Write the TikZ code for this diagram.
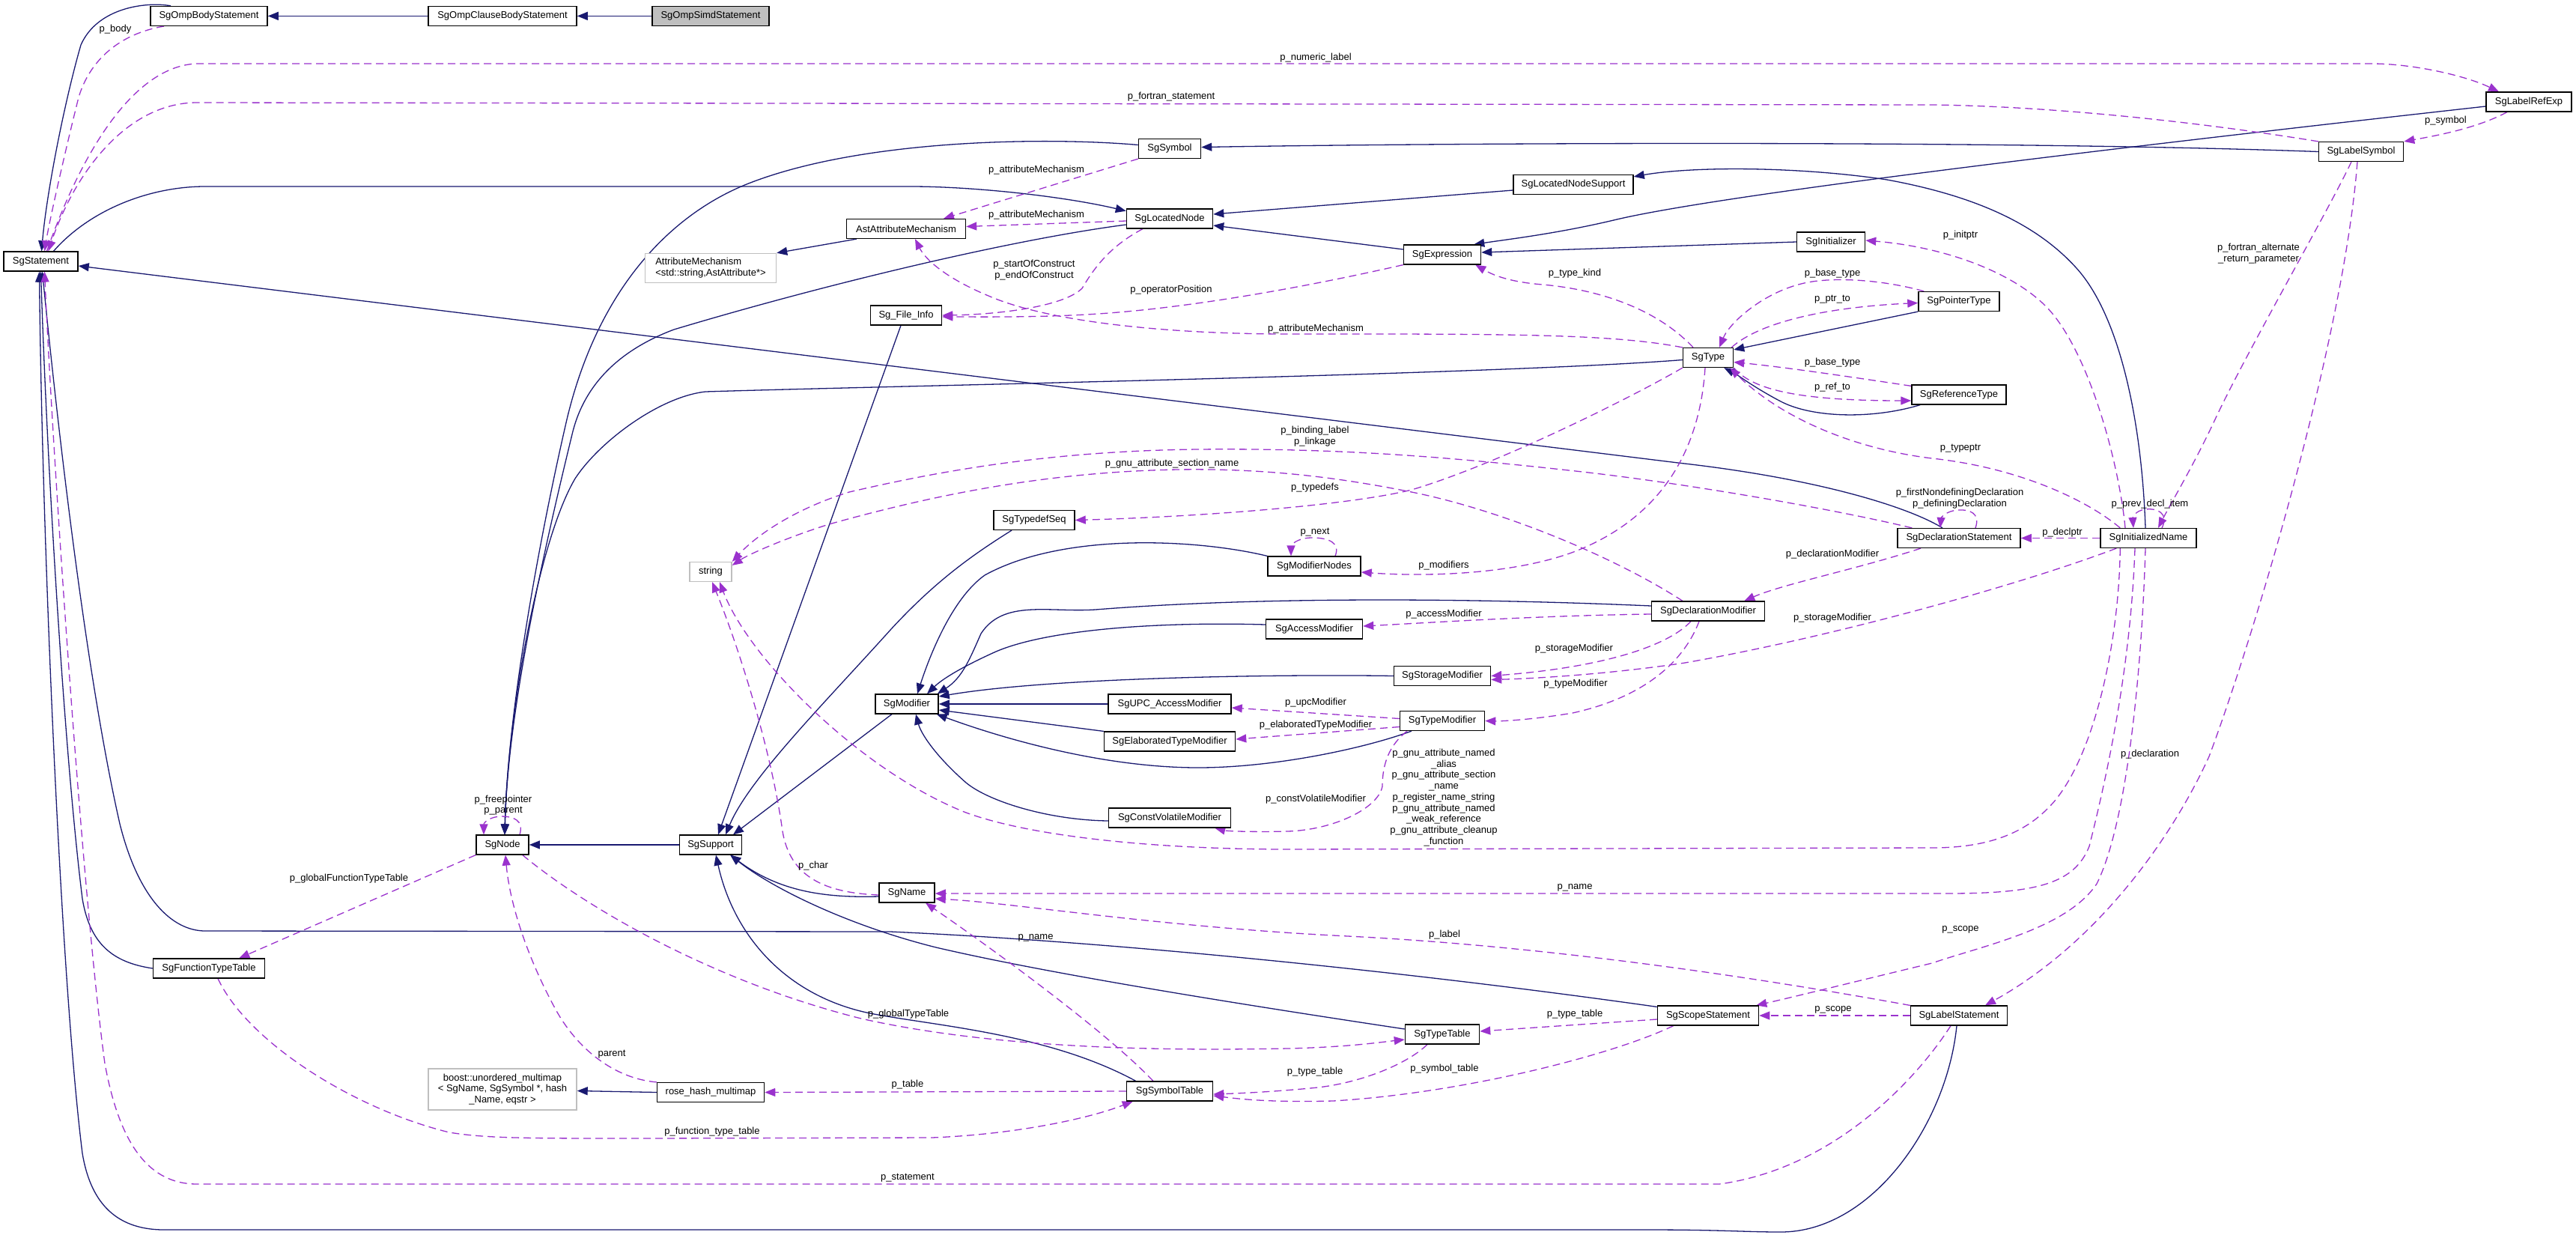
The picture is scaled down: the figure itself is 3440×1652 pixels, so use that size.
\documentclass[tikz,border=0pt]{standalone}
\usepackage{fontspec}
\setmainfont{Liberation Sans}
\usetikzlibrary{arrows.meta}
\pgfdeclarelayer{bg}
\pgfsetlayers{bg,main}
\definecolor{navyc}{HTML}{191970}
\definecolor{purp}{HTML}{9A32CD}
\definecolor{grayb}{HTML}{BFBFBF}
\tikzset{
  cbox/.style={draw=black, line width=1.5pt, fill=white, inner sep=0pt, minimum height=25.7pt, anchor=center},
  gcbox/.style={cbox, draw=grayb},
  inh/.style={draw=navyc, line width=1.3pt, -{Triangle[length=14pt,width=11pt]}},
  usage/.style={draw=purp, line width=1.3pt, dash pattern=on 10pt off 6pt, -{Triangle[length=14pt,width=11pt]}},
  lbl/.style={inner sep=0pt, align=center, text=black, anchor=center}
}
\begin{document}
\begin{tikzpicture}[x=1pt,y=-1pt,font=\fontsize{13pt}{14.75pt}\selectfont]
\useasboundingbox (0,0) rectangle (3440,1652);
% nodes
\node[cbox,minimum width=156pt] (ompbody) at (279,21.4) {SgOmpBodyStatement};
\node[cbox,minimum width=198pt] (ompclause) at (671,21.4) {SgOmpClauseBodyStatement};
\node[cbox,minimum width=156pt,fill=grayb] (ompsimd) at (949,21.4) {SgOmpSimdStatement};
\node[cbox,minimum width=99pt] (stmt) at (54.5,349) {SgStatement};
\node[cbox,minimum width=114pt] (labelref) at (3377,136) {SgLabelRefExp};
\node[cbox,minimum width=83pt] (symbol) at (1562,198.5) {SgSymbol};
\node[cbox,minimum width=113pt] (labelsym) at (3153,202.5) {SgLabelSymbol};
\node[cbox,minimum width=115pt] (locnode) at (1562,292) {SgLocatedNode};
\node[cbox,minimum width=159pt] (astattr) at (1210,305.5) {AstAttributeMechanism};
\node[gcbox,minimum width=175pt,minimum height=39pt,align=left] (attrmech) at (949,358) {AttributeMechanism\\<std::string,AstAttribute*>};
\node[cbox,minimum width=160pt] (locsupport) at (2101,246.5) {SgLocatedNodeSupport};
\node[cbox,minimum width=103pt] (expr) at (1926,340) {SgExpression};
\node[cbox,minimum width=91pt] (initializer) at (2445,323) {SgInitializer};
\node[cbox,minimum width=95pt] (fileinfo) at (1210,421) {Sg\_File\_Info};
\node[cbox,minimum width=108pt] (ptrtype) at (2616,402.5) {SgPointerType};
\node[cbox,minimum width=67pt] (type) at (2281,477.5) {SgType};
\node[cbox,minimum width=126pt] (reftype) at (2616,527) {SgReferenceType};
\node[cbox,minimum width=108pt] (typedefseq) at (1381,694.5) {SgTypedefSeq};
\node[cbox,minimum width=164pt] (declstmt) at (2616,718.5) {SgDeclarationStatement};
\node[cbox,minimum width=128pt] (initname) at (2869,718.5) {SgInitializedName};
\node[cbox,minimum width=124pt] (modnodes) at (1755,756) {SgModifierNodes};
\node[gcbox,minimum width=56pt] (string) at (949,763.5) {string};
\node[cbox,minimum width=151pt] (declmod) at (2281,816) {SgDeclarationModifier};
\node[cbox,minimum width=129pt] (accessmod) at (1755,840) {SgAccessModifier};
\node[cbox,minimum width=129pt] (storagemod) at (1926,902.5) {SgStorageModifier};
\node[cbox,minimum width=84pt] (modifier) at (1211,940) {SgModifier};
\node[cbox,minimum width=164pt] (upcmod) at (1562,940) {SgUPC\_AccessModifier};
\node[cbox,minimum width=113pt] (typemod) at (1926,962.5) {SgTypeModifier};
\node[cbox,minimum width=175pt] (elabmod) at (1562,990) {SgElaboratedTypeModifier};
\node[cbox,minimum width=163pt] (cvmod) at (1562,1092) {SgConstVolatileModifier};
\node[cbox,minimum width=70pt] (sgnode) at (671,1128) {SgNode};
\node[cbox,minimum width=83pt] (support) at (949,1128) {SgSupport};
\node[cbox,minimum width=74pt] (sgname) at (1211,1192) {SgName};
\node[cbox,minimum width=149pt] (functable) at (279,1293) {SgFunctionTypeTable};
\node[cbox,minimum width=135pt] (scopestmt) at (2281,1356) {SgScopeStatement};
\node[cbox,minimum width=129pt] (labelstmt) at (2616,1356) {SgLabelStatement};
\node[cbox,minimum width=99pt] (typetable) at (1926,1381) {SgTypeTable};
\node[gcbox,minimum width=198pt,minimum height=55pt,align=center] (boost) at (671,1454.5) {boost::unordered\_multimap\\< SgName, SgSymbol *, hash\\\_Name, eqstr >};
\node[cbox,minimum width=143pt] (rosehash) at (949,1458.5) {rose\_hash\_multimap};
\node[cbox,minimum width=115pt] (symtable) at (1562,1457) {SgSymbolTable};

\begin{pgfonlayer}{bg}
% inheritance
\draw[inh] (ompclause.west) -- (ompbody.east);
\draw[inh] (ompsimd.west) -- (ompclause.east);
\draw[inh] ([xshift=-51pt]ompbody.north) .. controls (195,2) and (130,10) .. (108,60) .. controls (85,140) and (62,260) .. ([xshift=1pt]stmt.north);
\draw[inh] ([xshift=17pt]stmt.north) .. controls (120,280) and (200,249) .. (274,249) -- (1216,249) .. controls (1300,249) and (1420,262) .. (locnode.170);
\draw[inh] ([xshift=-22pt]declstmt.north) .. controls (2545,675) and (2420,638) .. (2241,618) -- ([yshift=-6pt]stmt.east);
\draw[inh] ([yshift=5pt]symbol.west) .. controls (1400,183) and (1150,185) .. (997,246) .. controls (900,285) and (800,380) .. (757,560) .. controls (720,720) and (678,950) .. ([xshift=3pt]sgnode.north);
\draw[inh] ([yshift=-8pt]locnode.west) .. controls (1350,320) and (1100,380) .. (900,440) .. controls (820,470) and (778,520) .. (764,580) .. controls (725,740) and (678,950) .. ([xshift=3pt]sgnode.north);
\draw[inh] ([yshift=-3pt]type.west) .. controls (2000,500) and (1200,515) .. (942,523) .. controls (880,530) and (800,590) .. (768,639) .. controls (720,720) and (678,950) .. ([xshift=3pt]sgnode.north);
\draw[inh] (labelsym.west) .. controls (2700,188) and (2000,190) .. ([yshift=2pt]symbol.east);
\draw[inh] ([yshift=-6pt]labelref.west) .. controls (2800,200) and (2300,260) .. (2159,293) .. controls (2080,312) and (2010,320) .. ([xshift=-10pt]expr.north east);
\draw[inh] ([yshift=7pt]expr.west) -- ([yshift=-9pt]locnode.east);
\draw[inh] ([yshift=-7.5pt]locsupport.west) -- ([yshift=6pt]locnode.east);
\draw[inh] (initializer.west) -- ([yshift=3pt]expr.east);
\draw[inh] ([xshift=-4pt]initname.north) .. controls (2860,560) and (2830,420) .. (2772,357) .. controls (2720,300) and (2640,262) .. (2520,240) .. controls (2400,222) and (2260,222) .. ([yshift=-3pt]locsupport.north east);
\draw[inh] (ptrtype.south west) -- ([yshift=-3pt]type.north east);
\draw[inh] ([xshift=12pt]reftype.south west) .. controls (2500,560) and (2420,558) .. (2378,536) .. controls (2340,516) and (2320,500) .. ([xshift=-13pt]type.south east);
\draw[inh] ([xshift=-30pt]typedefseq.south) .. controls (1300,740) and (1250,775) .. (1190,840) .. controls (1100,940) and (1000,1040) .. ([xshift=20pt]support.north);
\draw[inh] (modnodes.north west) .. controls (1600,720) and (1420,710) .. (1315,768) .. controls (1270,800) and (1240,880) .. ([xshift=14pt]modifier.north);
\draw[inh] ([yshift=7pt]declmod.west) .. controls (2000,800) and (1700,795) .. (1463,814) .. controls (1400,818) and (1340,800) .. (1310,846) .. controls (1295,880) and (1285,905) .. ([xshift=-2pt]modifier.north east);
\draw[inh] ([yshift=6pt]accessmod.west) .. controls (1550,830) and (1400,840) .. (1330,870) .. controls (1290,888) and (1260,905) .. ([xshift=27pt]modifier.north);
\draw[inh] (storagemod.west) .. controls (1700,900) and (1400,905) .. ([yshift=10pt]modifier.east);
\draw[inh] (upcmod.west) -- (modifier.east);
\draw[inh] (elabmod.north west) -- ([yshift=-8pt]modifier.east);
\draw[inh] ([xshift=-41pt]typemod.south) .. controls (1820,1000) and (1700,1025) .. (1600,1025) .. controls (1480,1025) and (1350,990) .. ([xshift=-3pt]modifier.south east);
\draw[inh] ([yshift=-4pt]cvmod.west) .. controls (1400,1095) and (1320,1070) .. (1290,1045) .. controls (1250,1010) and (1230,980) .. ([xshift=12pt]modifier.south);
\draw[inh] ([xshift=-20pt]modifier.south) -- ([xshift=30pt]support.north);
\draw[inh] ([xshift=-7pt]fileinfo.south) -- ([xshift=10pt]support.north);
\draw[inh] (support.west) -- (sgnode.east);
\draw[inh] ([yshift=-5pt]sgname.west) .. controls (1100,1199) and (1040,1190) .. ([xshift=-16pt]support.south east);
\draw[inh] ([yshift=7pt]typetable.west) .. controls (1650,1340) and (1400,1300) .. (1250,1265) .. controls (1130,1235) and (1030,1185) .. ([xshift=-16pt]support.south east);
\draw[inh] ([xshift=13pt]symtable.north west) .. controls (1400,1380) and (1250,1370) .. (1162,1353) .. controls (1050,1330) and (980,1250) .. ([xshift=7pt]support.south);
\draw[inh] ([yshift=-2pt]scopestmt.north west) .. controls (1900,1300) and (1500,1258) .. (1189,1244) -- (274,1243) .. controls (230,1243) and (185,1200) .. (160,1100) .. controls (110,880) and (70,500) .. ([xshift=2pt]stmt.south);
\draw[inh] (functable.west) .. controls (150,1285) and (120,1260) .. (110,1200) .. controls (85,1000) and (62,600) .. (stmt.south);
\draw[inh] ([xshift=-3pt]labelstmt.south) .. controls (2600,1500) and (2500,1645) .. (2378,1645) .. controls (2330,1645) and (2300,1642) .. (2200,1642) -- (219,1642) .. controls (150,1642) and (120,1600) .. (110,1540) .. controls (80,1300) and (56,700) .. ([xshift=-2pt]stmt.south);
\draw[inh] (rosehash.west) -- ([yshift=-2pt]boost.east);
\draw[inh] ([xshift=14pt]astattr.south west) -- (attrmech.north east);
% usage
\draw[usage] ([xshift=-60pt]ompbody.south) .. controls (160,45) and (120,80) .. (105,130) .. controls (85,210) and (65,300) .. ([xshift=5pt]stmt.north);
\draw[usage] ([xshift=8pt]stmt.north) .. controls (110,200) and (180,88) .. (263,85) -- (3167,85) .. controls (3220,85) and (3290,100) .. ([xshift=-40pt]labelref.north);
\draw[usage] (labelsym.north west) .. controls (2950,165) and (2750,142) .. (2580,140) -- (263,137) .. controls (170,137) and (100,230) .. ([xshift=10pt]stmt.north);
\draw[usage] ([xshift=-29pt]labelref.south) .. controls (3310,170) and (3260,180) .. (labelsym.north east);
\draw[usage] (symbol.south west) -- ([xshift=50pt]astattr.north);
\draw[usage] ([yshift=-3pt]locnode.west) -- ([yshift=3pt]astattr.east);
\draw[usage] ([xshift=-36pt]locnode.south) .. controls (1480,330) and (1460,360) .. (1445,385) .. controls (1420,410) and (1330,420) .. (fileinfo.east);
\draw[usage] (expr.south west) .. controls (1780,375) and (1600,412) .. (1450,420) .. controls (1380,424) and (1300,423) .. ([yshift=-2pt]fileinfo.east);
\draw[usage] (type.north west) .. controls (2150,445) and (2000,446) .. (1720,446) .. controls (1560,446) and (1400,430) .. (1320,395) .. controls (1260,370) and (1235,345) .. ([xshift=12pt]astattr.south);
\draw[usage] ([xshift=-20pt]type.north) .. controls (2220,420) and (2150,388) .. (2060,380) .. controls (2010,376) and (1990,365) .. ([xshift=-8pt]expr.south east);
\draw[usage] ([xshift=8pt]ptrtype.north west) .. controls (2520,375) and (2460,370) .. (2420,376) .. controls (2360,385) and (2310,430) .. ([xshift=15pt]type.north);
\draw[usage] ([xshift=-3pt]type.north east) .. controls (2350,430) and (2440,410) .. ([yshift=-2pt]ptrtype.west);
\draw[usage] ([yshift=-2pt]reftype.north west) .. controls (2450,500) and (2380,490) .. ([yshift=-6pt]type.east);
\draw[usage] (type.south east) .. controls (2340,520) and (2400,535) .. ([yshift=-8pt]reftype.west);
\draw[usage] ([xshift=-31pt]initname.north) .. controls (2830,620) and (2790,470) .. (2734,411) .. controls (2690,365) and (2600,330) .. ([yshift=2pt]initializer.east);
\draw[usage] ([xshift=27pt]initname.north west) .. controls (2790,670) and (2700,625) .. (2580,612) .. controls (2480,600) and (2380,560) .. ([xshift=-5pt]type.south east);
\draw[usage] ([xshift=18pt]initname.north) .. controls (2897,685) and (2880,678) .. (2865,680) .. controls (2850,682) and (2848,692) .. ([xshift=-20pt]initname.north);
\draw[usage] ([xshift=-13pt]labelsym.south) .. controls (3110,280) and (3000,470) .. (2958,560) .. controls (2930,620) and (2900,670) .. ([xshift=13pt]initname.north);
\draw[usage] (initname.west) -- (declstmt.east);
\draw[usage] ([xshift=22pt]declstmt.north) .. controls (2645,685) and (2630,680) .. (2615,681) .. controls (2598,682) and (2592,692) .. ([xshift=-25pt]declstmt.north);
\draw[usage] ([xshift=-51pt]declstmt.south) .. controls (2480,760) and (2380,780) .. ([xshift=-28pt]declmod.north east);
\draw[usage] ([xshift=20pt]declstmt.north west) .. controls (2450,680) and (2250,645) .. (2104,629) .. controls (1950,612) and (1800,598) .. (1600,600) .. controls (1400,602) and (1250,630) .. (1134,657) .. controls (1060,680) and (1010,715) .. (string.north east);
\draw[usage] ([xshift=-34pt]declmod.north) .. controls (2150,740) and (2000,680) .. (1885,657) .. controls (1800,640) and (1700,625) .. (1573,627) .. controls (1400,630) and (1250,660) .. (1107,700) .. controls (1050,718) and (1000,740) .. ([yshift=-5pt]string.north east);
\draw[usage] (type.south west) .. controls (2180,530) and (2000,620) .. (1885,654) .. controls (1800,675) and (1600,690) .. (typedefseq.east);
\draw[usage] ([xshift=-4pt]type.south) .. controls (2270,600) and (2220,690) .. (2104,736) .. controls (2020,768) and (1900,770) .. ([yshift=-8pt]modnodes.east);
\draw[usage] ([xshift=28pt]modnodes.north) .. controls (1790,725) and (1775,718) .. (1752,718) .. controls (1732,718) and (1724,728) .. ([xshift=-31pt]modnodes.north);
\draw[usage] ([yshift=-4pt]declmod.west) .. controls (2050,822) and (1900,832) .. ([yshift=4pt]accessmod.east);
\draw[usage] ([xshift=-23pt]declmod.south) .. controls (2230,860) and (2150,890) .. (storagemod.east);
\draw[usage] ([xshift=22pt]initname.south west) .. controls (2700,780) and (2450,850) .. (2250,885) .. controls (2150,900) and (2050,906) .. ([yshift=-5pt]storagemod.east);
\draw[usage] ([xshift=-12pt]declmod.south) .. controls (2250,880) and (2200,930) .. (2100,952) .. controls (2040,962) and (2000,963) .. (typemod.east);
\draw[usage] ([yshift=3pt]typemod.west) -- ([yshift=-5pt]upcmod.east);
\draw[usage] ([yshift=-8pt]typemod.west) -- ([yshift=3pt]elabmod.east);
\draw[usage] ([xshift=-47pt]typemod.south) .. controls (1855,995) and (1846,1020) .. (1846,1050) .. controls (1840,1080) and (1780,1108) .. (1720,1110) .. controls (1680,1111) and (1640,1110) .. ([xshift=-22pt]cvmod.south east);
\draw[usage] ([xshift=27pt]initname.south west) .. controls (2830,850) and (2800,1000) .. (2745,1068) .. controls (2710,1110) and (2660,1132) .. (2580,1132) -- (1720,1134) .. controls (1550,1134) and (1380,1118) .. (1290,1085) .. controls (1150,1030) and (1000,880) .. ([xshift=12pt]string.south);
\draw[usage] ([yshift=-3pt]sgname.west) .. controls (1100,1192) and (1055,1170) .. (1045,1110) .. controls (1030,1000) and (985,860) .. ([xshift=2pt]string.south);
\draw[usage] ([xshift=-18pt]initname.south) .. controls (2845,900) and (2810,1050) .. (2790,1130) .. controls (2770,1180) and (2720,1193) .. (2600,1193) -- ([yshift=-1pt]sgname.east);
\draw[usage] (labelstmt.north west) .. controls (2400,1315) and (2100,1265) .. (1800,1250) .. controls (1550,1238) and (1350,1205) .. ([yshift=-8pt]sgname.east);
\draw[usage] ([xshift=-22pt]symtable.north) .. controls (1480,1380) and (1330,1270) .. ([xshift=25pt]sgname.south);
\draw[usage] ([xshift=-9pt]sgnode.south east) .. controls (780,1210) and (950,1310) .. (1150,1360) .. controls (1350,1405) and (1600,1402) .. (1720,1400) .. controls (1800,1398) and (1840,1392) .. ([yshift=-7pt]typetable.west);
\draw[usage] (sgnode.south west) -- ([xshift=-35pt]functable.north east);
\draw[usage] ([xshift=23pt]sgnode.north) .. controls (700,1095) and (685,1090) .. (670,1090) .. controls (655,1090) and (646,1098) .. ([xshift=-25pt]sgnode.north);
\draw[usage] (rosehash.north west) .. controls (820,1440) and (770,1400) .. (741,1346) .. controls (700,1270) and (680,1200) .. ([xshift=4pt]sgnode.south);
\draw[usage] (symtable.west) -- (rosehash.east);
\draw[usage] ([xshift=12pt]functable.south) .. controls (330,1390) and (470,1480) .. (600,1512) .. controls (650,1520) and (700,1520) .. (860,1520) -- (1244,1519) .. controls (1350,1515) and (1450,1495) .. ([xshift=9pt]symtable.south west);
\draw[usage] ([xshift=-20pt]typetable.south) .. controls (1880,1420) and (1820,1445) .. (1760,1452) .. controls (1700,1458) and (1650,1460) .. ([yshift=-4pt]symtable.east);
\draw[usage] ([xshift=22pt]scopestmt.south west) .. controls (2150,1410) and (1950,1460) .. (1780,1470) .. controls (1700,1472) and (1660,1468) .. ([yshift=-6pt]symtable.east);
\draw[usage] ([yshift=-5pt]scopestmt.west) -- ([yshift=4pt]typetable.east);
\draw[usage] (labelstmt.west) -- (scopestmt.east);
\draw[usage] ([xshift=-4pt]initname.south) .. controls (2860,900) and (2840,1100) .. (2800,1180) .. controls (2760,1240) and (2650,1262) .. (2580,1286) .. controls (2480,1310) and (2400,1330) .. ([xshift=-4pt]scopestmt.north east);
\draw[usage] ([xshift=-5pt]labelsym.south) .. controls (3130,450) and (3010,850) .. (2950,1010) .. controls (2900,1120) and (2800,1260) .. ([xshift=35pt]labelstmt.north);
\draw[usage] ([xshift=-11pt]labelstmt.south) .. controls (2560,1440) and (2450,1560) .. (2296,1581) -- (263,1581) .. controls (200,1581) and (160,1530) .. (140,1420) .. controls (110,1200) and (70,600) .. ([xshift=5pt]stmt.south);
\end{pgfonlayer}

% labels
\node[lbl] (l1) at (154,39) {p\_body};
\node[lbl] (l2) at (1757,77) {p\_numeric\_label};
\node[lbl] (l3) at (1564,129) {p\_fortran\_statement};
\node[lbl] (l4) at (3266,161) {p\_symbol};
\node[lbl] (l5) at (1384,227.5) {p\_attributeMechanism};
\node[lbl] (l6) at (1384,287.5) {p\_attributeMechanism};
\node[lbl] (l7) at (1381,360.5) {p\_startOfConstruct\\p\_endOfConstruct};
\node[lbl] (l8) at (1564,387) {p\_operatorPosition};
\node[lbl] (l9) at (1757,439) {p\_attributeMechanism};
\node[lbl] (l10) at (2103,365) {p\_type\_kind};
\node[lbl] (l11) at (2447,365) {p\_base\_type};
\node[lbl] (l12) at (2447,400) {p\_ptr\_to};
\node[lbl] (l13) at (2447,484) {p\_base\_type};
\node[lbl] (l14) at (2447,517) {p\_ref\_to};
\node[lbl] (l15) at (2618,314) {p\_initptr};
\node[lbl] (l16) at (3016,339) {p\_fortran\_alternate\\\_return\_parameter};
\node[lbl] (l17) at (2618,599) {p\_typeptr};
\node[lbl] (l18) at (2871,673) {p\_prev\_decl\_item};
\node[lbl] (l19) at (2754,711) {p\_declptr};
\node[lbl] (l20) at (2617,666) {p\_firstNondefiningDeclaration\\p\_definingDeclaration};
\node[lbl] (l21) at (2447,740) {p\_declarationModifier};
\node[lbl] (l22) at (1756,583) {p\_binding\_label\\p\_linkage};
\node[lbl] (l23) at (1565,619) {p\_gnu\_attribute\_section\_name};
\node[lbl] (l24) at (1756,651) {p\_typedefs};
\node[lbl] (l25) at (1756,711) {p\_next};
\node[lbl] (l26) at (1928,755) {p\_modifiers};
\node[lbl] (l27) at (1928,820) {p\_accessModifier};
\node[lbl] (l28) at (2102,866) {p\_storageModifier};
\node[lbl] (l29) at (2447,825) {p\_storageModifier};
\node[lbl] (l30) at (2104,913) {p\_typeModifier};
\node[lbl] (l31) at (1757,938) {p\_upcModifier};
\node[lbl] (l32) at (1757,968) {p\_elaboratedTypeModifier};
\node[lbl] (l33) at (1757,1067) {p\_constVolatileModifier};
\node[lbl] (l34) at (1928,1065) {p\_gnu\_attribute\_named\\\_alias\\p\_gnu\_attribute\_section\\\_name\\p\_register\_name\_string\\p\_gnu\_attribute\_named\\\_weak\_reference\\p\_gnu\_attribute\_cleanup\\\_function};
\node[lbl] (l35) at (1086,1156) {p\_char};
\node[lbl] (l36) at (2103,1185) {p\_name};
\node[lbl] (l37) at (1383,1252) {p\_name};
\node[lbl] (l38) at (1929,1248) {p\_label};
\node[lbl] (l39) at (1213,1354) {p\_globalTypeTable};
\node[lbl] (l40) at (466,1173) {p\_globalFunctionTypeTable};
\node[lbl] (l41) at (672,1075) {p\_freepointer\\p\_parent};
\node[lbl] (l42) at (817,1408) {parent};
\node[lbl] (l43) at (1212,1448) {p\_table};
\node[lbl] (l44) at (951,1511) {p\_function\_type\_table};
\node[lbl] (l45) at (1756,1431) {p\_type\_table};
\node[lbl] (l46) at (1929,1427) {p\_symbol\_table};
\node[lbl] (l47) at (2103,1354) {p\_type\_table};
\node[lbl] (l48) at (2448,1348) {p\_scope};
\node[lbl] (l49) at (2618,1241) {p\_scope};
\node[lbl] (l50) at (2871,1007) {p\_declaration};
\node[lbl] (l51) at (1212,1573) {p\_statement};
\end{tikzpicture}
\end{document}
